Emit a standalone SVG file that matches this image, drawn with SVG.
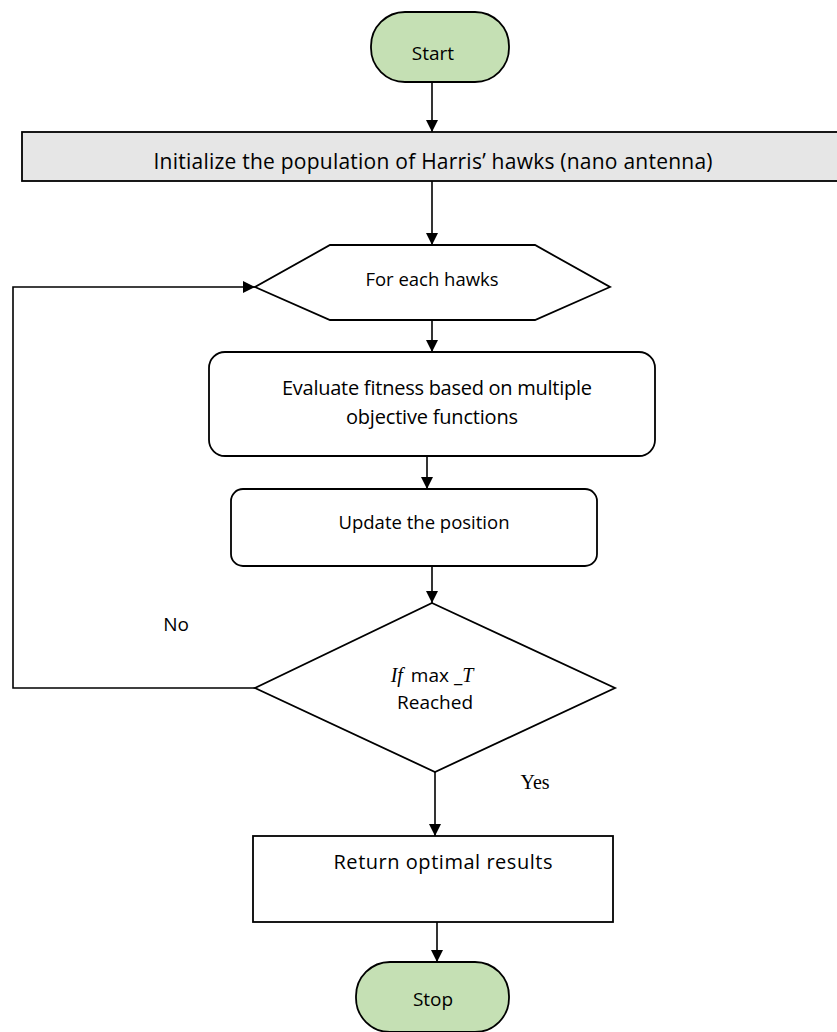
<svg xmlns="http://www.w3.org/2000/svg" width="837" height="1032" viewBox="0 0 837 1032">
<style>
.t{font-family:"Open Sans","Liberation Sans",sans-serif;font-size:19px;fill:#000;text-anchor:middle}
.term{fill:#c5e0b4;stroke:#000;stroke-width:1.8}
.box{fill:#fff;stroke:#000;stroke-width:1.8}
.c{fill:none;stroke:#000;stroke-width:1.6}
</style>
<defs>
<marker id="ah" viewBox="0 0 12 12" refX="12" refY="6" markerWidth="12" markerHeight="12" markerUnits="userSpaceOnUse" orient="auto">
<path d="M0,0 L12,6 L0,12 z" fill="#000"/>
</marker>
</defs>
<rect width="837" height="1032" fill="#fff"/>
<g id="connectors">
<line class="c" x1="432" y1="82" x2="432" y2="132" marker-end="url(#ah)"/>
<line class="c" x1="432" y1="181" x2="432" y2="245" marker-end="url(#ah)"/>
<line class="c" x1="432" y1="320" x2="432" y2="352" marker-end="url(#ah)"/>
<line class="c" x1="427" y1="456" x2="427" y2="489" marker-end="url(#ah)"/>
<line class="c" x1="432" y1="566" x2="432" y2="603" marker-end="url(#ah)"/>
<polyline class="c" points="255,688 13,688 13,287 255,287" marker-end="url(#ah)"/>
<line class="c" x1="435" y1="772" x2="435" y2="836" marker-end="url(#ah)"/>
<line class="c" x1="437" y1="922" x2="437" y2="962" marker-end="url(#ah)"/>
</g>
<g id="start">
<rect class="term" x="371" y="12" width="138" height="70" rx="34" ry="34"/>
<text class="t" x="433" y="60" font-size="20">Start</text>
</g>
<g id="init">
<rect x="22" y="132" width="830" height="49" fill="#e6e6e6" stroke="#000" stroke-width="1.8"/>
<text class="t" x="433" y="169" style="font-size:21px" textLength="559" lengthAdjust="spacing">Initialize the population of Harris’ hawks (nano antenna)</text>
</g>
<g id="foreach">
<polygon class="box" points="330,245 535,245 610,287 535,320 330,320 255,287"/>
<text class="t" x="432" y="286" style="font-size:18.5px">For each hawks</text>
</g>
<g id="evaluate">
<rect class="box" x="209" y="352" width="446" height="104" rx="16" ry="16"/>
<text class="t" x="437" y="395" style="font-size:20px" textLength="310" lengthAdjust="spacing">Evaluate fitness based on multiple</text>
<text class="t" x="432" y="424" style="font-size:20px" textLength="172" lengthAdjust="spacing">objective functions</text>
</g>
<g id="update">
<rect class="box" x="231" y="489" width="366" height="77" rx="12" ry="12"/>
<text class="t" x="424" y="529" style="font-size:18.5px">Update the position</text>
</g>
<g id="decision">
<polygon class="box" points="432,603 615,688 435,772 255,688"/>
<text x="432" y="682" text-anchor="middle"><tspan font-family="'Liberation Serif',serif" font-style="italic" font-size="20">If</tspan><tspan dx="8" font-size="19" font-family="'Open Sans',sans-serif">max _</tspan><tspan font-family="'Liberation Serif',serif" font-style="italic" font-size="20">T</tspan></text>
<text class="t" x="435" y="709">Reached</text>
</g>
<g id="labels">
<text class="t" x="176" y="631">No</text>
<text x="535" y="789" font-family="'Liberation Serif',serif" font-size="20" text-anchor="middle">Yes</text>
</g>
<g id="return">
<rect class="box" x="253" y="836" width="360" height="86"/>
<text class="t" x="443" y="869" style="font-size:20px" textLength="219" lengthAdjust="spacing">Return optimal results</text>
</g>
<g id="stop">
<rect class="term" x="356" y="962" width="153" height="70" rx="34" ry="34"/>
<text class="t" x="433" y="1006" font-size="20">Stop</text>
</g>
</svg>
